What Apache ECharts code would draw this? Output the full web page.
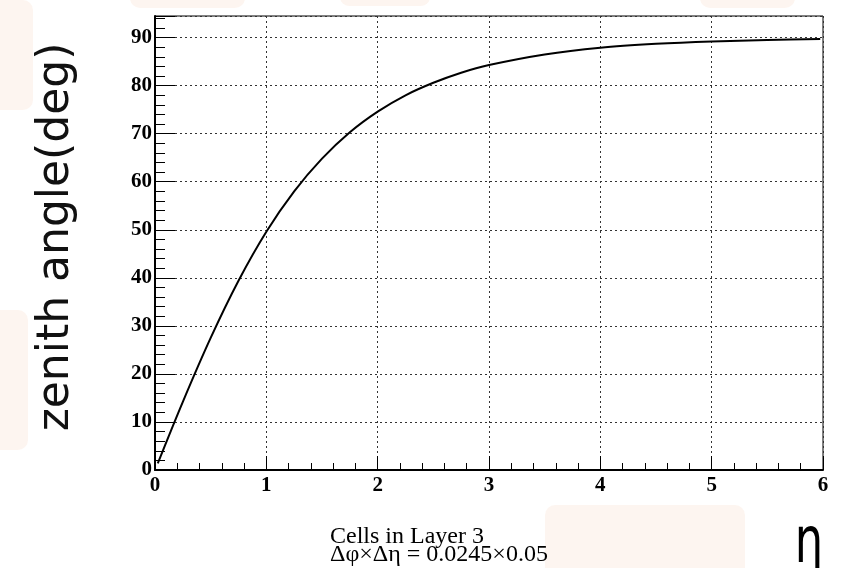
<!DOCTYPE html>
<html>
<head>
    <meta charset="utf-8">
    <title>zenith angle vs eta</title>
    <script src="https://cdn.jsdelivr.net/npm/echarts@6/dist/echarts.min.js"></script>
    <style>
        html, body { margin: 0; padding: 0; background: #fff; }
    </style>
</head>
<body>
    <div id="main" style="width: 845px;height:568px;"></div>
    <script type="text/javascript">
        // values
        var etaValues = [0.025, 0.25, 0.5, 0.75, 1.0, 1.25, 1.5, 1.75, 2.0, 2.25, 2.5, 2.75, 3.0, 3.5, 4.0, 4.5, 5.0, 5.5, 5.975];
        var zenithValues = [1.4, 14.2, 27.5, 39.4, 49.6, 58.0, 64.8, 70.3, 74.6, 78.0, 80.6, 82.7, 84.3, 86.5, 87.9, 88.7, 89.2, 89.5, 89.7];
        var yTicks = [0, 10, 20, 30, 40, 50, 60, 70, 80, 90];

        var myChart = echarts.init(document.getElementById('main'));

        var points = [];
        for (var i = 0; i < etaValues.length; i++) {
            points.push([etaValues[i], zenithValues[i]]);
        }

        var labelFont = {
            fontFamily: 'Liberation Serif',
            fontWeight: 'bold',
            fontSize: 21,
            color: '#000'
        };

        // faint watermark patches behind the plot
        function patch(x, y, w, h) {
            return {
                type: 'rect',
                z: -10,
                silent: true,
                shape: { x: x, y: y, width: w, height: h, r: 10 },
                style: { fill: 'rgba(248,222,205,0.3)' }
            };
        }

        var option = {
            backgroundColor: '#fff',
            animation: false,
            grid: {
                left: 155,
                top: 16,
                right: 22,
                bottom: 98,
                show: true,
                backgroundColor: '#fff',
                borderColor: '#000',
                borderWidth: 1
            },
            xAxis: {
                type: 'value',
                min: 0,
                max: 6,
                interval: 1,
                axisLine: { lineStyle: { color: '#000', width: 2 } },
                axisTick: { inside: true, length: 14, lineStyle: { color: '#000', width: 1 } },
                minorTick: { show: true, splitNumber: 5, length: 7, lineStyle: { color: '#000' } },
                axisLabel: Object.assign({ margin: 5 }, labelFont),
                splitLine: { show: true, lineStyle: { color: '#333', type: [2, 3], width: 1 } }
            },
            yAxis: {
                type: 'value',
                min: 0,
                max: 94.5,
                interval: 10,
                axisLine: { lineStyle: { color: '#000', width: 2 } },
                axisTick: { inside: true, length: 20, lineStyle: { color: '#000', width: 1 } },
                minorTick: { show: true, splitNumber: 5, length: 10, lineStyle: { color: '#000' } },
                axisLabel: Object.assign({
                    margin: 3,
                    formatter: function (v) {
                        return yTicks.indexOf(v) >= 0 ? String(v) : '';
                    }
                }, labelFont),
                splitLine: { show: true, lineStyle: { color: '#333', type: [2, 3], width: 1 } }
            },
            graphic: [
                patch(130, -12, 115, 20),
                patch(340, -12, 90, 18),
                patch(700, -12, 95, 20),
                patch(-12, 0, 45, 110),
                patch(-12, 310, 40, 140),
                patch(545, 505, 200, 80),
                {
                    type: 'text',
                    x: 57,
                    y: 237,
                    rotation: Math.PI / 2,
                    style: {
                        text: 'zenith angle(deg)',
                        fontFamily: 'DejaVu Sans',
                        fontSize: 44,
                        fill: '#111',
                        align: 'center',
                        verticalAlign: 'middle'
                    }
                },
                {
                    type: 'text',
                    x: 809,
                    y: 545,
                    scaleX: 0.7,
                    style: {
                        text: 'η',
                        fontFamily: 'DejaVu Sans',
                        fontSize: 64,
                        fill: '#000',
                        align: 'center',
                        verticalAlign: 'middle'
                    }
                },
                {
                    type: 'text',
                    left: 330,
                    top: 525,
                    style: {
                        text: 'Cells in Layer 3\nΔφ×Δη = 0.0245×0.05',
                        fontFamily: 'Liberation Serif',
                        fontSize: 24,
                        lineHeight: 18,
                        fill: '#000'
                    }
                }
            ],
            series: [
                {
                    type: 'line',
                    data: points,
                    smooth: 0.3,
                    symbol: 'none',
                    lineStyle: { color: '#000', width: 2 }
                }
            ]
        };

        myChart.setOption(option);
    </script>
</body>
</html>
